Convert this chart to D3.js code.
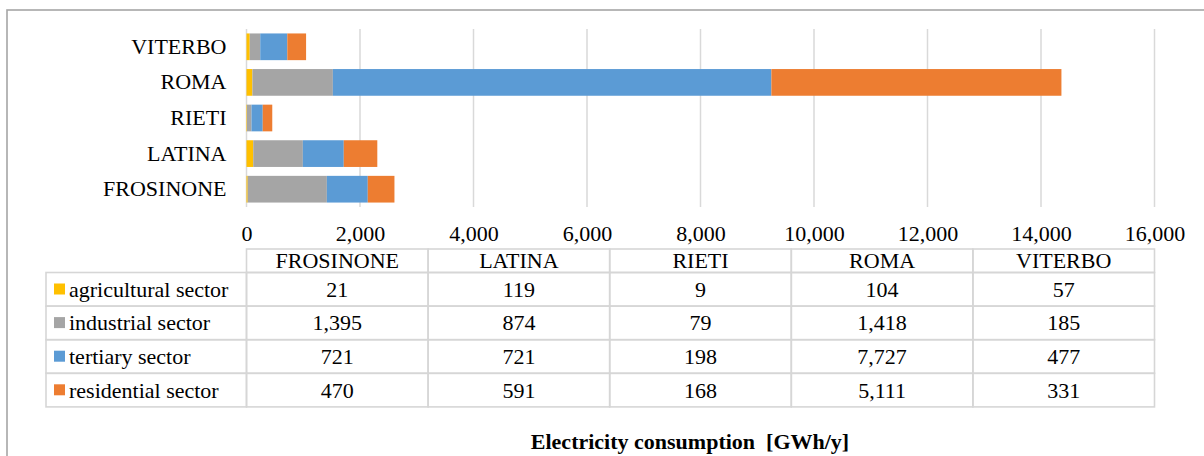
<!DOCTYPE html>
<html>
<head>
<meta charset="utf-8">
<script src="https://cdn.jsdelivr.net/npm/d3@7/dist/d3.min.js"></script>
<style>
  html, body { margin: 0; padding: 0; background: #fff; }
  svg text { font-family: "Liberation Serif", "Times New Roman", "DejaVu Serif", serif !important; }
</style>
</head>
<body>
<svg id="chart" width="1204" height="456"></svg>
<script>
// Provinces (table column order, bottom-to-top on the bar chart)
const provinces = ["FROSINONE", "LATINA", "RIETI", "ROMA", "VITERBO"];
// Sectors (stack order)
const sectors = ["agricultural sector", "industrial sector", "tertiary sector", "residential sector"];
const sectorColors = ["#FFC000", "#A5A5A5", "#5B9BD5", "#ED7D31"];
// Electricity consumption per sector [GWh/y], one value per province
const agricultural = [21, 119, 9, 104, 57];
const industrial = [1395, 874, 79, 1418, 185];
const tertiary = [721, 721, 198, 7727, 477];
const residential = [470, 591, 168, 5111, 331];
const xTicks = [0, 2000, 4000, 6000, 8000, 10000, 12000, 14000, 16000];
const axisTitle = "Electricity consumption  [GWh/y]";

const seriesValues = [agricultural, industrial, tertiary, residential];
const rows = provinces.map((p, i) => {
  const r = { province: p };
  sectors.forEach((s, k) => { r[s] = seriesValues[k][i]; });
  return r;
});

const svg = d3.select("#chart");
const fmt = d3.format(",");
const serif = '"Liberation Serif", "Times New Roman", "DejaVu Serif", serif';

// outer frame
svg.append("rect")
  .attr("x", 7).attr("y", 10).attr("width", 1230).attr("height", 480)
  .attr("fill", "none").attr("stroke", "#a6a6a6").attr("stroke-width", 1.6);

const plot = { left: 246.5, right: 1154.5, top: 29, bottom: 207 };

const x = d3.scaleLinear().domain([0, 16000]).range([plot.left, plot.right]);
const y = d3.scaleBand()
  .domain(provinces.slice().reverse())
  .range([plot.top, plot.bottom])
  .paddingInner(0.25).paddingOuter(0.125);

// vertical gridlines
svg.append("g").selectAll("line").data(xTicks).join("line")
  .attr("x1", d => x(d)).attr("x2", d => x(d))
  .attr("y1", plot.top).attr("y2", plot.bottom)
  .attr("stroke", "#d9d9d9").attr("stroke-width", 1.5);

// stacked bars
const stack = d3.stack().keys(sectors);
const layers = stack(rows);
svg.append("g").selectAll("g").data(layers).join("g")
  .attr("fill", (d, i) => sectorColors[i])
  .selectAll("rect").data(d => d).join("rect")
  .attr("x", d => x(d[0]))
  .attr("width", d => x(d[1]) - x(d[0]))
  .attr("y", d => y(d.data.province))
  .attr("height", y.bandwidth());

// category axis
const yAxis = svg.append("g")
  .attr("transform", `translate(${plot.left},0)`)
  .call(d3.axisLeft(y).tickSize(0).tickPadding(20));
yAxis.attr("font-family", null).attr("font-size", null);
yAxis.select(".domain").remove();
yAxis.selectAll("text")
  .style("font-size", "22px").attr("fill", "#000");

// value axis labels
const xAxis = svg.append("g")
  .attr("transform", `translate(0,${plot.bottom})`)
  .call(d3.axisBottom(x).tickValues(xTicks).tickFormat(fmt).tickSize(0).tickPadding(18));
xAxis.attr("font-family", null).attr("font-size", null);
xAxis.select(".domain").remove();
xAxis.selectAll("text")
  .style("font-size", "22px").attr("fill", "#000");

// data table
const table = { left: 46, headerTop: 249, headerBottom: 272.5, rowH: 33.6 };
const colX = d3.scaleBand().domain(provinces).range([plot.left, plot.right]);
const tbl = svg.append("g");
const border = "#d6d6d6";

// header row
provinces.forEach(p => {
  tbl.append("rect")
    .attr("x", colX(p)).attr("y", table.headerTop)
    .attr("width", colX.bandwidth()).attr("height", table.headerBottom - table.headerTop)
    .attr("fill", "none").attr("stroke", border).attr("stroke-width", 1.6);
  tbl.append("text")
    .attr("x", colX(p) + colX.bandwidth() / 2).attr("y", table.headerBottom - 4.5)
    .attr("text-anchor", "middle").style("font-size", "22px").attr("fill", "#000")
    .text(p);
});

// body rows
sectors.forEach((s, k) => {
  const top = table.headerBottom + k * table.rowH;
  tbl.append("rect")
    .attr("x", table.left).attr("y", top)
    .attr("width", plot.left - table.left).attr("height", table.rowH)
    .attr("fill", "none").attr("stroke", border).attr("stroke-width", 1.6);
  tbl.append("rect")
    .attr("x", 54).attr("y", top + 11).attr("width", 11).attr("height", 11)
    .attr("fill", sectorColors[k]);
  tbl.append("text")
    .attr("x", 69).attr("y", top + table.rowH / 2 + 7.5)
    .style("font-size", "22px").attr("fill", "#000")
    .text(s);
  provinces.forEach((p, i) => {
    tbl.append("rect")
      .attr("x", colX(p)).attr("y", top)
      .attr("width", colX.bandwidth()).attr("height", table.rowH)
      .attr("fill", "none").attr("stroke", border).attr("stroke-width", 1.6);
    tbl.append("text")
      .attr("x", colX(p) + colX.bandwidth() / 2).attr("y", top + table.rowH / 2 + 7.5)
      .attr("text-anchor", "middle").style("font-size", "22px").attr("fill", "#000")
      .text(fmt(seriesValues[k][i]));
  });
});

// axis title
svg.append("text")
  .attr("x", 690).attr("y", 449)
  .attr("text-anchor", "middle").style("font-size", "22px").attr("font-weight", "bold")
  .attr("fill", "#000")
  .style("white-space", "pre")
  .text(axisTitle);
</script>
</body>
</html>
